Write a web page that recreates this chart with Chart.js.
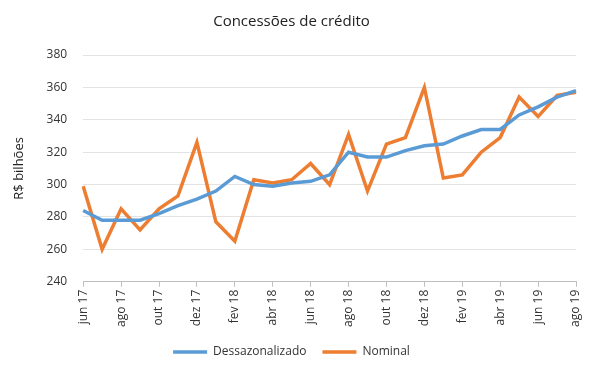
<!DOCTYPE html>
<html>
<head>
<meta charset="utf-8">
<script src="https://cdn.jsdelivr.net/npm/chart.js@4"></script>
<style>
  html, body { margin: 0; padding: 0; background: #fff; }
  #wrap { width: 596px; height: 371px; }
</style>
</head>
<body>
<div id="wrap"><canvas id="chart"></canvas></div>
<script>
var months = ["jun 17", "jul 17", "ago 17", "set 17", "out 17", "nov 17", "dez 17",
  "jan 18", "fev 18", "mar 18", "abr 18", "mai 18", "jun 18", "jul 18", "ago 18",
  "set 18", "out 18", "nov 18", "dez 18", "jan 19", "fev 19", "mar 19", "abr 19",
  "mai 19", "jun 19", "jul 19", "ago 19"];

var dessazonalizado = [284, 278, 278, 278, 282, 287, 291, 296, 305, 300, 299, 301, 302,
  306, 320, 317, 317, 321, 324, 325, 330, 334, 334, 343, 348, 354, 358];

var nominal = [299, 260, 285, 272, 285, 293, 326, 277, 265, 303, 301, 303, 313,
  300, 331, 296, 325, 329, 360, 304, 306, 320, 329, 354, 342, 355, 357];

var font = "'Open Sans', 'Liberation Sans', sans-serif";

var ctx = document.getElementById('chart').getContext('2d');
var chart = new Chart(ctx, {
  type: 'line',
  data: {
    labels: months,
    datasets: [{
      label: "Dessazonalizado",
      data: dessazonalizado,
      borderColor: "#5B9BD5",
      backgroundColor: "#5B9BD5",
      borderWidth: 3.5,
      pointRadius: 0,
      tension: 0
    }, {
      label: "Nominal",
      data: nominal,
      borderColor: "#ED7D31",
      backgroundColor: "#ED7D31",
      borderWidth: 3.5,
      pointRadius: 0,
      tension: 0
    }]
  },
  options: {
    responsive: true,
    maintainAspectRatio: false,
    animation: false,
    layout: { padding: { left: 7, right: 20, top: 11, bottom: 3 } },
    plugins: {
      title: {
        display: true,
        text: "Concessões de crédito",
        color: "#222",
        font: { family: font, size: 15, weight: 'normal' },
        padding: { top: 2, bottom: 24 }
      },
      legend: {
        position: 'bottom',
        labels: {
          color: "#333",
          font: { family: font, size: 12 },
          usePointStyle: true,
          pointStyle: 'line',
          pointStyleWidth: 34,
          boxHeight: 3,
          padding: 16
        }
      },
      tooltip: { enabled: false }
    },
    scales: {
      x: {
        offset: false,
        grid: { drawOnChartArea: false, drawTicks: true, tickLength: 5, color: "#bfbfbf" },
        border: { display: true, color: "#bfbfbf" },
        ticks: {
          autoSkip: false,
          maxRotation: 90,
          minRotation: 90,
          color: "#333",
          font: { family: font, size: 12 },
          callback: function (val, i) { return i % 2 === 0 ? months[i] : null; }
        }
      },
      y: {
        min: 240,
        max: 380,
        grid: { color: "#e3e3e3", drawTicks: false },
        border: { display: false },
        title: {
          display: true,
          text: "R$ bilhões",
          color: "#222",
          font: { family: font, size: 13 }
        },
        ticks: {
          stepSize: 20,
          padding: 16,
          color: "#333",
          font: { family: font, size: 12 }
        }
      }
    }
  }
});
</script>
</body>
</html>
